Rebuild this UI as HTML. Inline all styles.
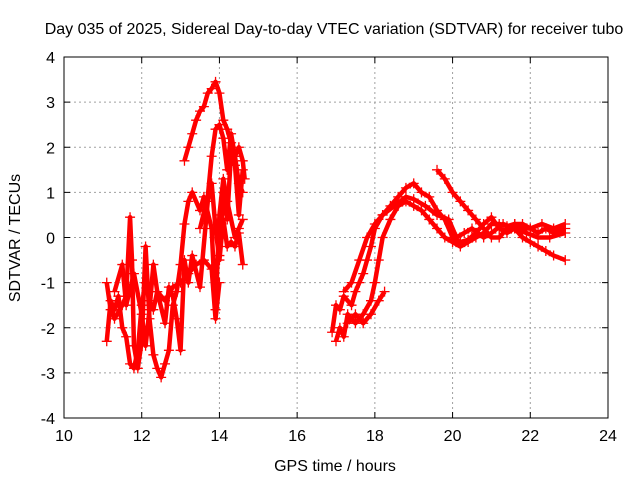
<!DOCTYPE html>
<html><head><meta charset="utf-8"><style>
body{margin:0;background:#fff;}
svg text{font-family:"Liberation Sans",sans-serif;font-size:16px;fill:#000;}
</style></head><body>
<svg id="chart" width="640" height="480" xmlns="http://www.w3.org/2000/svg">
<text x="334" y="34" text-anchor="middle">Day 035 of 2025, Sidereal Day-to-day VTEC variation (SDTVAR) for receiver tubo</text>
<text x="335" y="471" text-anchor="middle">GPS time / hours</text>
<text transform="translate(20,238) rotate(-90)" text-anchor="middle">SDTVAR / TECUs</text>
<g id="grid"></g>
<g id="ticks"></g>
<g id="series"></g>
<rect x="64" y="57" width="544" height="361" fill="none" stroke="#000" stroke-width="1"/>
</svg>
<script>
const xTicks=[10,12,14,16,18,20,22,24];
const yTicks=[-4,-3,-2,-1,0,1,2,3,4];
const track1=[[11.1,-2.3],[11.2,-1.4],[11.3,-1.6],[11.4,-1.3],[11.5,-2.0],[11.6,-2.2],[11.7,-2.8],[11.8,-2.9],[11.9,-2.5],[12.0,-1.5],[12.1,-1.0],[12.2,-1.4],[12.3,-1.6],[12.4,-1.2],[12.6,-1.4],[12.8,-1.1],[13.0,-1.0],[13.2,-0.8],[13.4,-0.6],[13.6,-0.5],[13.8,-0.7],[13.9,-1.8],[14.0,-1.0]];
const track2=[[11.1,-1.0],[11.2,-1.6],[11.3,-1.8],[11.5,-1.5],[11.6,-1.3],[11.7,0.45],[11.75,-0.5],[11.8,-2.4],[11.9,-2.9],[12.0,-2.3],[12.1,-0.2],[12.2,-1.8],[12.3,-2.6],[12.4,-2.9],[12.5,-3.1],[12.6,-2.8],[12.7,-2.5],[12.8,-1.5],[12.9,-1.2],[13.0,-0.6],[13.1,0.3],[13.2,0.8],[13.3,1.0],[13.5,0.6],[13.6,0.9],[13.8,0.2],[13.9,-1.6],[14.0,0.5],[14.1,1.3],[14.2,0.8],[14.4,0.0],[14.5,0.2],[14.6,0.4]];
const track3=[[11.3,-1.2],[11.5,-0.6],[11.6,-1.5],[11.8,-0.8],[12.0,-1.7],[12.1,-2.4],[12.2,-1.6],[12.3,-0.6],[12.4,-1.2],[12.6,-1.9],[12.7,-1.1],[12.8,-1.3],[12.9,-1.8],[13.0,-2.5],[13.1,-0.5],[13.2,-1.0],[13.3,-0.4],[13.5,-1.1],[13.7,0.8],[13.8,1.2],[13.9,0.2],[14.0,-0.5],[14.1,0.4],[14.2,-0.2],[14.3,-0.1],[14.4,-0.2],[14.5,0.1],[14.6,-0.6]];
const track4=[[13.1,1.7],[13.2,2.0],[13.3,2.3],[13.4,2.6],[13.5,2.8],[13.6,2.9],[13.7,3.2],[13.8,3.3],[13.9,3.45],[14.0,3.2],[14.1,2.6],[14.2,2.4],[14.3,2.1],[14.4,1.8],[14.5,2.0],[14.6,1.7],[14.65,1.3]];
const track5=[[13.5,0.2],[13.7,0.9],[13.8,1.8],[13.9,2.4],[14.0,2.5],[14.1,2.2],[14.2,1.5],[14.3,2.3],[14.4,1.8],[14.5,1.2],[14.6,1.0]];
const track6=[[14.0,-0.4],[14.1,1.0],[14.2,0.4],[14.3,1.9],[14.4,1.6],[14.5,0.5],[14.6,1.5]];
const track7=[[16.9,-2.1],[17.0,-1.5],[17.1,-1.6],[17.2,-1.3],[17.4,-1.5],[17.5,-1.2],[17.6,-1.0],[17.7,-0.8],[17.8,-0.5],[17.9,-0.2],[18.0,0.2],[18.2,0.5],[18.4,0.7],[18.6,0.9],[18.8,1.1],[19.0,1.2],[19.2,1.0],[19.4,0.9],[19.6,0.6],[19.8,0.4],[20.0,0.0],[20.2,-0.1],[20.4,-0.05],[20.6,0.1],[20.8,0.3],[21.0,0.45],[21.2,0.2],[21.4,0.1],[21.6,0.2],[21.8,0.0],[22.0,-0.1],[22.2,-0.2],[22.4,-0.3],[22.6,-0.4],[22.9,-0.5]];
const track8=[[17.0,-2.3],[17.1,-2.0],[17.2,-2.2],[17.3,-1.7],[17.5,-1.9],[17.7,-1.7],[17.9,-1.4],[18.0,-1.0],[18.1,-0.5],[18.2,0.0],[18.4,0.4],[18.6,0.7],[18.8,0.8],[19.0,0.7],[19.2,0.6],[19.4,0.4],[19.6,0.2],[19.8,0.0],[20.0,-0.1],[20.2,-0.2],[20.4,-0.1],[20.6,0.0],[20.8,0.1],[21.0,0.3],[21.2,0.3],[21.4,0.25],[21.6,0.3],[21.8,0.3],[22.0,0.2],[22.2,0.1],[22.4,0.2],[22.6,0.1],[22.9,0.2]];
const track9=[[17.3,-1.9],[17.5,-1.7],[17.7,-1.9],[17.9,-1.7],[18.1,-1.4],[18.25,-1.2]];
const track10=[[17.2,-1.2],[17.4,-1.0],[17.6,-0.5],[17.8,0.0],[18.0,0.3],[18.2,0.5],[18.5,0.7],[18.8,0.9],[19.0,0.85],[19.3,0.7],[19.6,0.5],[19.9,0.4],[20.1,0.0],[20.3,0.1],[20.5,0.2],[20.8,0.0],[21.0,0.1],[21.3,0.3],[21.6,0.2],[21.9,0.1],[22.2,0.0],[22.5,0.0],[22.9,0.1]];
const track11=[[19.6,1.5],[19.8,1.3],[20.0,1.0],[20.2,0.8],[20.4,0.6],[20.6,0.4],[20.8,0.2],[21.0,0.0],[21.2,0.0],[21.4,0.2],[21.6,0.3],[21.8,0.2],[22.0,0.2],[22.3,0.3],[22.6,0.2],[22.9,0.3]];
const tracks=[track1,track2,track3,track4,track5,track6,track7,track8,track9,track10,track11];

const NS='http://www.w3.org/2000/svg';
const X0=64,X1=608,Y0=418,Y1=57;
function sx(v){return X0+(v-10)/(24-10)*(X1-X0);}
function sy(v){return Y0-(v+4)/8*(Y0-Y1);}
function mk(t,a,p){const e=document.createElementNS(NS,t);for(const k in a)e.setAttribute(k,a[k]);p.appendChild(e);return e;}
const grid=document.getElementById('grid'),ticks=document.getElementById('ticks'),series=document.getElementById('series');
xTicks.forEach(t=>{const x=sx(t);
 if(t>10&&t<24){const g=mk('line',{x1:x,x2:x,y1:Y1,y2:Y0,stroke:'#a0a0a0','stroke-dasharray':'2,3'},grid);
 
 }
 mk('line',{x1:x,x2:x,y1:Y0,y2:Y0-6,stroke:'#000'},ticks);
 mk('line',{x1:x,x2:x,y1:Y1,y2:Y1+6,stroke:'#000'},ticks);
 const l=mk('text',{x:x,y:Y0+23,'text-anchor':'middle'},ticks);l.textContent=t;
 
 });
yTicks.forEach(t=>{const y=sy(t);
 if(t>-4&&t<4){const g=mk('line',{x1:X0,x2:X1,y1:y,y2:y,stroke:'#a0a0a0','stroke-dasharray':'2,3'},grid);
 
 }
 mk('line',{x1:X0,x2:X0+6,y1:y,y2:y,stroke:'#000'},ticks);
 mk('line',{x1:X1,x2:X1-6,y1:y,y2:y,stroke:'#000'},ticks);
 const l=mk('text',{x:X0-9,y:y+6,'text-anchor':'end'},ticks);l.textContent=t;
 
 });
tracks.forEach((tr,i)=>{
 const g=mk('g',{},series);
 
 
 mk('polyline',{points:tr.map(p=>sx(p[0])+','+sy(p[1])).join(' '),fill:'none',stroke:'#ff0000','stroke-width':4.5,'stroke-linejoin':'round'},g);
 tr.forEach(p=>{const x=sx(p[0]),y=sy(p[1]);
  mk('path',{d:`M${x-5},${y}H${x+5}M${x},${y-5}V${y+5}`,stroke:'#ff0000','stroke-width':1.3},g);});
});
</script>
</body></html>
